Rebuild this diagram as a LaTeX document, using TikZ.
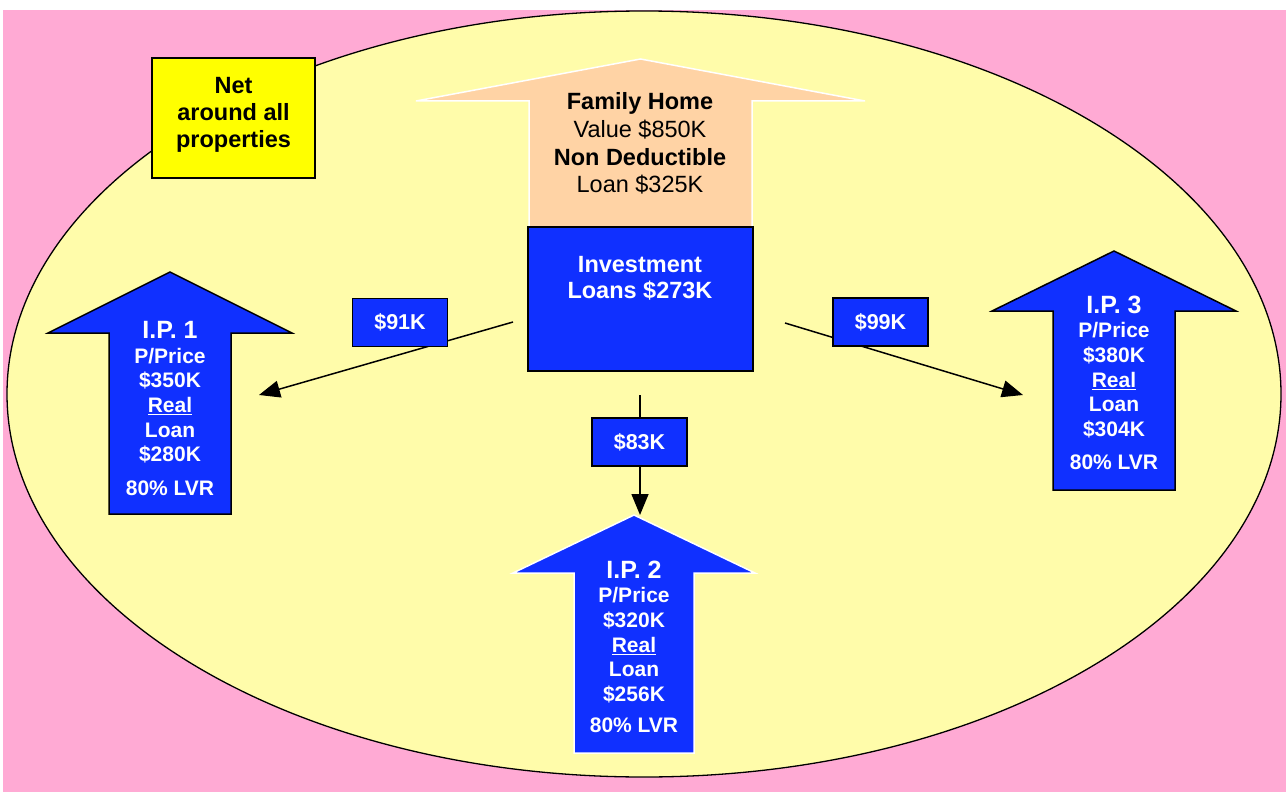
\documentclass[tikz,border=0pt]{standalone}
\usepackage{fontspec}
\setmainfont{Liberation Sans}
\usetikzlibrary{arrows.meta}
\definecolor{bgpink}{HTML}{FFAAD4}
\definecolor{ellyellow}{HTML}{FFFCAA}
\definecolor{netyellow}{HTML}{FFFF00}
\definecolor{loanblue}{RGB}{16,48,255}
\definecolor{homepeach}{HTML}{FFD3A5}

% block arrow pointing up: style, centre x, tip y, head half width, head base y, shaft half width, bottom y
\newcommand{\upblock}[7]{%
  \draw[#1] (#2,#3) -- (#2+#4,#5) -- (#2+#6,#5) -- (#2+#6,#7) -- (#2-#6,#7) -- (#2-#6,#5) -- (#2-#4,#5) -- cycle;}

\begin{document}
\begin{tikzpicture}[x=1pt, y=-1pt,
    amount/.style={draw=black, line width=1.5pt, fill=loanblue, text=white, font=\fontsize{21.5}{24}\selectfont\bfseries, minimum width=95pt, minimum height=48pt, inner sep=0pt},
    iptext/.style={text=white, align=center, font=\fontsize{21}{24.6}\selectfont\bfseries, inner sep=0pt},
    flow/.style={line width=1.5pt, -{Triangle[length=21pt, width=17pt]}}]
	\useasboundingbox (0,0) rectangle (1286,792);
	\fill[bgpink] (3,10) rectangle (1286,792);
	\draw[line width=1.3pt, fill=ellyellow] (644,394) ellipse [x radius=637, y radius=383];

	% family home and investment loans
	\upblock{fill=homepeach, draw=white, line width=1.5pt}{640.5}{59}{224.5}{101}{111.5}{227}
	\node[draw=black, line width=1.5pt, fill=loanblue, minimum width=225pt, minimum height=144pt, inner sep=0pt] (inv) at (640.5,299) {};
	\node[align=center, inner sep=0pt, font=\fontsize{23.5}{27.7}\selectfont] (home) at (640,143.5) {\textbf{Family Home}\\Value \$850K\\\textbf{Non Deductible}\\Loan \$325K};
	\node[align=center, inner sep=0pt, text=white, font=\fontsize{23.5}{26}\selectfont\bfseries] (invtext) at (640,278.5) {Investment\\Loans \$273K};

	\node[draw=black, line width=1.5pt, fill=netyellow, minimum width=163pt, minimum height=120pt, align=center, font=\fontsize{23.5}{27}\selectfont\bfseries, inner sep=0pt] (net) at (233.5,118) {};
	\node[align=center, font=\fontsize{23.5}{27}\selectfont\bfseries, inner sep=0pt] (nettext) at (233.5,115) {Net\\around all\\properties};

	% connectors
	\coordinate (invl) at (513,322);
	\coordinate (invr) at (785,323);
	\coordinate (invb) at (640,395);
	\coordinate (ip1in) at (259,395);
	\coordinate (ip3in) at (1023,395);
	\coordinate (ip2in) at (640,515);
	\draw[flow] (invl) -- (ip1in);
	\draw[flow] (invr) -- (ip3in);
	\draw[flow] (invb) -- (ip2in);

	\node[amount] (a91) at (400,322.5) {\$91K};
	\node[amount] (a99) at (880.5,322) {\$99K};
	\node[amount] (a83) at (639.5,442) {\$83K};

	% investment properties
	\upblock{fill=loanblue, draw=black, line width=1.5pt}{170}{272}{122}{333}{61}{514}
	\upblock{fill=loanblue, draw=white, line width=1.5pt}{634}{515}{121}{573}{60}{753}
	\upblock{fill=loanblue, draw=black, line width=1.5pt}{1114}{251}{122}{311}{61}{490}

	\node[iptext] (ip1) at (170,408.5) {{\fontsize{25}{24.6}\selectfont I.P. 1}\\P/Price\\\$350K\\\underline{Real}\\Loan\\\$280K\\[9pt]80\% LVR};
	\node[iptext] (ip2) at (634,647) {{\fontsize{25}{24.6}\selectfont I.P. 2}\\P/Price\\\$320K\\\underline{Real}\\Loan\\\$256K\\[7pt]80\% LVR};
	\node[iptext] (ip3) at (1114,383) {{\fontsize{25}{24.6}\selectfont I.P. 3}\\P/Price\\\$380K\\\underline{Real}\\Loan\\\$304K\\[9pt]80\% LVR};
\end{tikzpicture}
\end{document}
